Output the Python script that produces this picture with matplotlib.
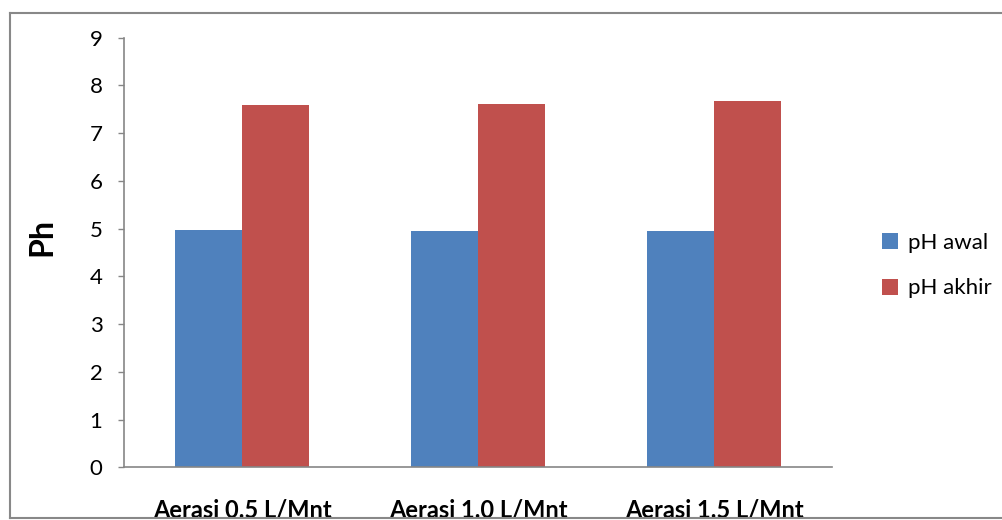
import matplotlib
matplotlib.use("Agg")
import matplotlib.pyplot as plt
from matplotlib.lines import Line2D
import numpy as np

categories = ["Aerasi 0.5 L/Mnt", "Aerasi 1.0 L/Mnt", "Aerasi 1.5 L/Mnt"]
ph_awal = [4.98, 4.95, 4.95]
ph_akhir = [7.60, 7.62, 7.68]
series_names = ["pH awal", "pH akhir"]
colors = ["#4F81BD", "#C0504D"]
yticks = list(range(0, 10))

plt.rcParams['font.family'] = ['Lato', 'DejaVu Sans']

fig = plt.figure(figsize=(10.03, 5.2), dpi=100)
ax = fig.add_axes([0.1236, 0.101, 0.7059, 0.8265])

x = np.arange(len(categories))
w = 0.285
b1 = ax.bar(x - w / 2, ph_awal, width=w, color=colors[0], label=series_names[0])
b2 = ax.bar(x + w / 2, ph_akhir, width=w, color=colors[1], label=series_names[1])

ax.set_xlim(-0.5, len(categories) - 0.5)
ax.set_ylim(0, 9)
ax.set_yticks(yticks)
ax.set_yticklabels([str(t) for t in yticks], fontsize=16)
ax.set_xticks(x)
ax.set_xticklabels(categories, fontsize=17, fontweight='bold')
ax.tick_params(axis='x', length=0, pad=22)
ax.tick_params(axis='y', length=4.5, width=1, color='#868686', pad=11)

for s in ['top', 'right']:
    ax.spines[s].set_visible(False)
for s in ['left', 'bottom']:
    ax.spines[s].set_color('#868686')
    ax.spines[s].set_linewidth(1.2)

fig.text(0.042, 0.544, "Ph", rotation=90, fontsize=23, fontweight='bold',
         ha='center', va='center')

leg = fig.legend(handles=[b1, b2], labels=series_names, loc='center left',
                 bbox_to_anchor=(0.859, 0.489), frameon=False, fontsize=16,
                 handlelength=0.75, handleheight=0.75, handletextpad=0.45,
                 labelspacing=1.15)

# outer chart frame
frame_color = '#888888'
x0, x1 = 10 / 1003, 1.02
y0, y1 = 1 - 518 / 520, 1 - 13 / 520
for xs, ys in [((x0, x1), (y1, y1)), ((x0, x0), (y0, y1)), ((x0, x1), (y0, y0))]:
    fig.add_artist(Line2D(xs, ys, transform=fig.transFigure, color=frame_color,
                          linewidth=1.5, zorder=10))

fig.savefig("out.png", dpi=100)
